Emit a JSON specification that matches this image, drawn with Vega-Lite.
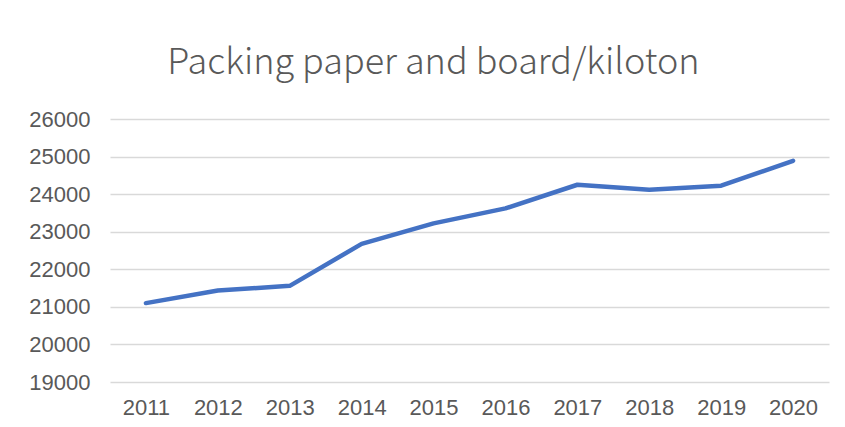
{
  "$schema": "https://vega.github.io/schema/vega-lite/v6.json",
  "autosize": "none",
  "width": 719,
  "height": 263,
  "padding": {"left": 110, "top": 119, "right": 16, "bottom": 45},
  "background": "white",
  "title": {
    "text": "Packing paper and board/kiloton",
    "font": "Noto Sans CJK SC",
    "fontWeight": 300,
    "fontSize": 36,
    "color": "#595959",
    "anchor": "middle",
    "frame": "group",
    "dx": -36,
    "offset": 26
  },
  "data": {
    "values": [
      {"year": "2011", "value": 21100},
      {"year": "2012", "value": 21434},
      {"year": "2013", "value": 21559},
      {"year": "2014", "value": 22676},
      {"year": "2015", "value": 23221},
      {"year": "2016", "value": 23620},
      {"year": "2017", "value": 24250},
      {"year": "2018", "value": 24117},
      {"year": "2019", "value": 24224},
      {"year": "2020", "value": 24886}
    ]
  },
  "mark": {"type": "line", "color": "#4472C4", "strokeWidth": 4.5, "strokeCap": "round", "strokeJoin": "round"},
  "encoding": {
    "x": {
      "field": "year",
      "type": "ordinal",
      "scale": {"type": "point", "padding": 0.5},
      "axis": {
        "title": null,
        "labelAngle": 0,
        "domain": false,
        "ticks": false,
        "labelFont": "Liberation Sans",
        "labelFontSize": 22,
        "labelColor": "#595959",
        "labelPadding": 15
      }
    },
    "y": {
      "field": "value",
      "type": "quantitative",
      "scale": {"domain": [19000, 26000], "nice": false, "zero": false},
      "axis": {
        "title": null,
        "values": [19000, 20000, 21000, 22000, 23000, 24000, 25000, 26000],
        "format": "d",
        "domain": false,
        "ticks": false,
        "grid": true,
        "gridColor": "#d9d9d9",
        "gridWidth": 1.5,
        "labelFont": "Liberation Sans",
        "labelFontSize": 22,
        "labelColor": "#595959",
        "labelPadding": 20
      }
    }
  },
  "config": {"view": {"stroke": null}}
}
